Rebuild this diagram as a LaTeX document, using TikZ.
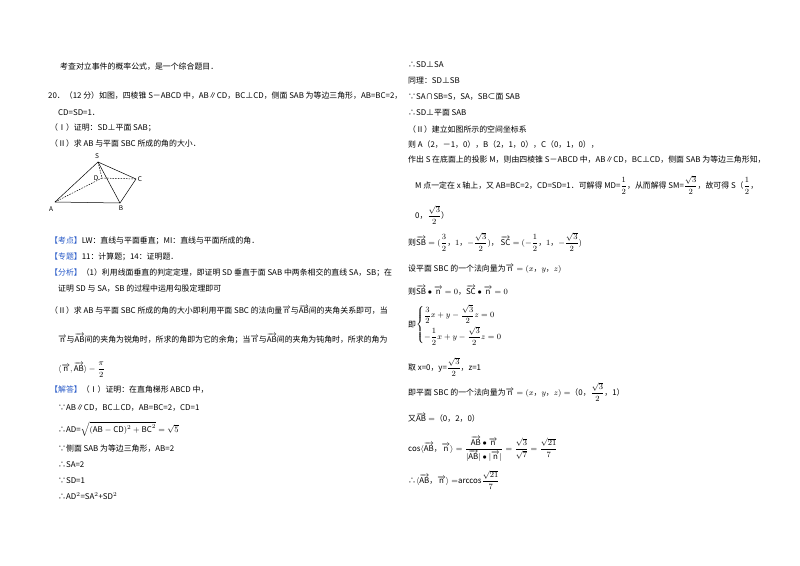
\documentclass[tikz,border=0pt]{standalone}
\usepackage{amsmath}
\usepackage{fontspec}
\setmainfont{Noto Sans CJK SC}
\definecolor{kb}{RGB}{40,90,200}
\newcommand{\vc}[1]{\overrightarrow{\mathrm{#1}}}
\newcommand{\bk}[1]{\textcolor{kb}{【#1】}}
\newcommand{\fr}[2]{{\scriptstyle\dfrac{#1}{#2}}}
\begin{document}
\begin{tikzpicture}[x=1pt,y=-1pt,
  tx/.style={anchor=west,inner sep=0pt,font=\fontsize{7.9}{10}\selectfont},
  ed/.style={line width=0.5pt},
  hd/.style={line width=0.5pt,dashed,dash pattern=on 1.5pt off 1.2pt},
  lb/.style={font=\fontsize{6.5}{7}\selectfont\rmfamily,inner sep=0pt}]
\useasboundingbox[fill=white] (0,0) rectangle (800,565);
% left column
\node[tx] (l1) at (60,67) {考查对立事件的概率公式，是一个综合题目．};
\node[tx] (l2) at (48,96) {20．（12 分）如图，四棱锥 S－ABCD 中，AB∥CD，BC⊥CD，侧面 SAB 为等边三角形，AB=BC=2，};
\node[tx] (l3) at (58,113) {CD=SD=1．};
\node[tx] (l4) at (50,128) {（Ⅰ）证明：SD⊥平面 SAB；};
\node[tx] (l5) at (50,143) {（Ⅱ）求 AB 与平面 SBC 所成的角的大小．};
% figure
\coordinate (S) at (98,162);
\coordinate (D) at (102,178);
\coordinate (C) at (136,179);
\coordinate (A) at (55,202);
\coordinate (B) at (120,203);
\draw[ed] (A)--(S)--(C)--(B)--(A) (S)--(B);
\draw[hd] (S)--(D)--(C) (A)--(D);
\node[lb] (lS) at (97,156) {S};
\node[lb] (lD) at (96,178) {D};
\node[lb] (lC) at (140,179) {C};
\node[lb] (lA) at (51,209) {A};
\node[lb] (lB) at (121,208) {B};
\node[tx] (l6) at (50,241) {\bk{考点}LW：直线与平面垂直；MI：直线与平面所成的角．};
\node[tx] (l7) at (50,257) {\bk{专题}11：计算题；14：证明题．};
\node[tx] (l8) at (50,273) {\bk{分析}（1）利用线面垂直的判定定理，即证明 SD 垂直于面 SAB 中两条相交的直线 SA，SB；在};
\node[tx] (l9) at (58,289) {证明 SD 与 SA，SB 的过程中运用勾股定理即可};
\node[tx] (l10) at (50,310) {（Ⅱ）求 AB 与平面 SBC 所成的角的大小即利用平面 SBC 的法向量$\vc{n}$与$\vc{AB}$间的夹角关系即可，当};
\node[tx] (l11) at (58,339) {$\vc{n}$与$\vc{AB}$间的夹角为锐角时，所求的角即为它的余角；当$\vc{n}$与$\vc{AB}$间的夹角为钝角时，所求的角为};
\node[tx] (l12) at (58,370) {$\langle\vc{n},\vc{AB}\rangle-\dfrac{\pi}{2}$};
\node[tx] (l13) at (50,390) {\bk{解答}（Ⅰ）证明：在直角梯形 ABCD 中，};
\node[tx] (l14) at (58,408) {∵AB∥CD，BC⊥CD，AB=BC=2，CD=1};
\node[tx] (l15) at (58,429) {∴AD=$\sqrt{(\mathrm{AB}-\mathrm{CD})^2+\mathrm{BC}^2}=\sqrt5$};
\node[tx] (l16) at (58,449) {∵侧面 SAB 为等边三角形，AB=2};
\node[tx] (l17) at (58,465) {∴SA=2};
\node[tx] (l18) at (58,481) {∵SD=1};
\node[tx] (l19) at (58,496) {∴AD$^2$=SA$^2$+SD$^2$};
% right column
\node[tx] (r1) at (408,65) {∴SD⊥SA};
\node[tx] (r2) at (408,81) {同理：SD⊥SB};
\node[tx] (r3) at (408,97) {∵SA∩SB=S，SA，SB⊂面 SAB};
\node[tx] (r4) at (408,113) {∴SD⊥平面 SAB};
\node[tx] (r5) at (408,129) {（Ⅱ）建立如图所示的空间坐标系};
\node[tx] (r6) at (408,145) {则 A（2，－1，0），B（2，1，0），C（0，1，0），};
\node[tx] (r7) at (408,160) {作出 S 在底面上的投影 M，则由四棱锥 S－ABCD 中，AB∥CD，BC⊥CD，侧面 SAB 为等边三角形知，};
\node[tx] (r8) at (415,185) {M 点一定在 x 轴上，又 AB=BC=2，CD=SD=1．可解得 MD=$\fr12$，从而解得 SM=$\fr{\sqrt3}{2}$，故可得 S（$\fr12$，};
\node[tx] (r9) at (415,215) {0，$\fr{\sqrt3}{2}$）};
\node[tx] (r10) at (408,242) {则$\vc{SB}=(\fr32$，$1$，$-\fr{\sqrt3}{2})$，\ $\vc{SC}=(-\fr12$，$1$，$-\fr{\sqrt3}{2})$};
\node[tx] (r11) at (408,269) {设平面 SBC 的一个法向量为$\vc{n}=(x$，$y$，$z)$};
\node[tx] (r12) at (408,290) {则$\vc{SB}\bullet\vc{n}=0$，$\vc{SC}\bullet\vc{n}=0$};
\node[tx] (r13) at (408,325) {即$\begin{cases}\fr32x+y-\fr{\sqrt3}{2}z=0\\[5pt] -\fr12x+y-\fr{\sqrt3}{2}z=0\end{cases}$};
\node[tx] (r14) at (408,367) {取 x=0，y=$\fr{\sqrt3}{2}$，z=1};
\node[tx] (r15) at (408,392) {即平面 SBC 的一个法向量为$\vc{n}=(x$，$y$，$z)=$（0，$\fr{\sqrt3}{2}$，1）};
\node[tx] (r16) at (408,418) {又$\vc{AB}=$（0，2，0）};
\node[tx] (r17) at (408,449) {cos$\langle\vc{AB}$，$\vc{n}\rangle={\scriptstyle\dfrac{\vc{AB}\bullet\vc{n}}{|\vc{AB}|\bullet|\vc{n}|}}=\fr{\sqrt3}{\sqrt7}=\fr{\sqrt{21}}{7}$};
\node[tx] (r18) at (408,480) {∴$\langle\vc{AB}$，$\vc{n}\rangle=$arccos$\fr{\sqrt{21}}{7}$};
\end{tikzpicture}
\end{document}
